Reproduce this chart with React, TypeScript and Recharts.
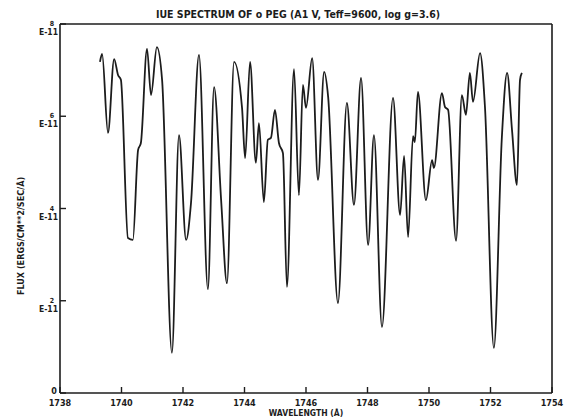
import React from 'react';
import { Label, Line, LineChart, XAxis, YAxis } from 'recharts';

// IUE spectrum of o Peg, flux in units of 1E-11 erg/cm^2/s/Å
const wavelength = [
  1739.3, 1739.37, 1739.56, 1739.76, 1739.89, 1739.98, 1740.21, 1740.37, 1740.54, 1740.63,
  1740.83, 1740.96, 1741.15, 1741.32, 1741.64, 1741.87, 1742.1, 1742.26, 1742.52, 1742.81,
  1743.01, 1743.24, 1743.43, 1743.66, 1743.92, 1744.02, 1744.18, 1744.37, 1744.47, 1744.63,
  1744.76, 1744.86, 1744.99, 1745.12, 1745.25, 1745.38, 1745.61, 1745.77, 1745.9, 1746.0,
  1746.2, 1746.39, 1746.59, 1746.72, 1747.04, 1747.33, 1747.56, 1747.79, 1748.02, 1748.21,
  1748.47, 1748.83, 1749.06, 1749.19, 1749.32, 1749.48, 1749.54, 1749.64, 1749.9, 1750.1,
  1750.16, 1750.42, 1750.52, 1750.62, 1750.88, 1751.07, 1751.2, 1751.33, 1751.43, 1751.66,
  1751.82, 1752.11, 1752.37, 1752.54, 1752.7, 1752.86, 1752.96, 1753.02,
];
const flux = [
  7.18, 7.35, 5.64, 7.24, 6.89, 6.79, 3.36, 3.32, 5.27, 5.42,
  7.46, 6.46, 7.5, 6.79, 0.87, 5.59, 3.32, 4.12, 7.33, 2.25,
  6.63, 4.18, 2.38, 7.18, 6.18, 5.09, 7.18, 4.99, 5.85, 4.14,
  5.49, 5.53, 6.14, 5.42, 5.2, 2.3, 7.02, 4.29, 6.68, 6.18,
  7.26, 4.62, 6.96, 6.42, 1.95, 6.29, 4.08, 6.83, 3.21, 5.59,
  1.43, 6.4, 3.86, 5.14, 3.38, 5.57, 5.44, 6.53, 4.18, 5.05,
  4.88, 6.5, 6.2, 6.14, 3.3, 6.46, 6.03, 6.94, 6.31, 7.37,
  6.2, 0.98, 5.55, 6.94, 5.7, 4.51, 6.79, 6.94,
];
const xTicks = [1738, 1740, 1742, 1744, 1746, 1748, 1750, 1752, 1754];
const yTicks = [0, 2, 4, 6, 8];

const data = wavelength.map((wl, i) => ({ wl, flux: flux[i] }));

const INK = '#1c1c1c';
const FONT = '"DejaVu Sans Condensed", "DejaVu Sans", sans-serif';

const WaveTick = ({ x, y, payload }: any) => (
  <text x={x} y={y + 3} textAnchor="middle" fontSize={9} fontWeight="bold" fontFamily={FONT} fill={INK}>
    {payload.value}
  </text>
);

const FluxTick = ({ x, y, payload }: any) => {
  if (payload.value === 0) {
    return (
      <text x={x - 4} y={y + 1} textAnchor="middle" fontSize={9} fontWeight="bold" fontFamily={FONT} fill={INK}>
        0
      </text>
    );
  }
  return (
    <g fontFamily={FONT} fontWeight="bold" fill={INK}>
      <text x={x - 6} y={y + 2} textAnchor="middle" fontSize={7}>
        {payload.value}
      </text>
      <text x={x} y={y + 11} textAnchor="end" fontSize={8.5}>
        E-11
      </text>
    </g>
  );
};

const TitleLabel = ({ viewBox }: any) => (
  <text
    x={viewBox.x + viewBox.width / 2 - 8}
    y={18}
    textAnchor="middle"
    fontSize={10.5}
    fontWeight="bold"
    fontFamily={FONT}
    fill={INK}
  >
    IUE SPECTRUM OF o PEG (A1 V, Teff=9600, log g=3.6)
  </text>
);

const WaveLabel = ({ viewBox }: any) => (
  <text x={viewBox.x + viewBox.width / 2} y={416} textAnchor="middle" fontSize={8.5} fontWeight="bold" fontFamily={FONT} fill={INK}>
    WAVELENGTH (Å)
  </text>
);

const FluxLabel = () => (
  <text
    x={0}
    y={0}
    transform="translate(24, 236) rotate(-90)"
    textAnchor="middle"
    fontSize={9}
    fontWeight="bold"
    fontFamily={FONT}
    fill={INK}
  >
    FLUX (ERGS/CM**2/SEC/Å)
  </text>
);

const axisLine = { stroke: INK, strokeWidth: 1.6 };
const tickLine = { stroke: INK, strokeWidth: 1.4 };

export default function App() {
  return (
    <div style={{ position: 'absolute', left: 0, top: 0, background: '#fff' }}>
      <LineChart width={570} height={419} data={data} margin={{ top: 23, right: 17, bottom: 0, left: 0 }}>
        <XAxis
          type="number"
          dataKey="wl"
          domain={[1738, 1754]}
          ticks={xTicks}
          height={26}
          tickSize={-6}
          tickMargin={16}
          tick={<WaveTick />}
          axisLine={axisLine}
          tickLine={tickLine}
        >
          <Label content={<WaveLabel />} />
        </XAxis>
        {/* top and right axes close the frame, ticks pointing inward */}
        <XAxis
          xAxisId="top"
          orientation="top"
          type="number"
          dataKey="wl"
          domain={[1738, 1754]}
          ticks={xTicks}
          height={1}
          tickSize={-6}
          tick={false}
          axisLine={axisLine}
          tickLine={tickLine}
        >
          <Label content={<TitleLabel />} />
        </XAxis>
        <YAxis
          type="number"
          domain={[0, 8]}
          ticks={yTicks}
          width={60}
          tickSize={-6}
          tickMargin={8}
          tick={<FluxTick />}
          axisLine={axisLine}
          tickLine={tickLine}
        >
          <Label content={<FluxLabel />} />
        </YAxis>
        <YAxis
          yAxisId="right"
          orientation="right"
          type="number"
          domain={[0, 8]}
          ticks={yTicks}
          width={1}
          tickSize={-6}
          tick={false}
          axisLine={axisLine}
          tickLine={tickLine}
        />
        <Line
          type="monotone"
          dataKey="flux"
          stroke={INK}
          strokeWidth={1.8}
          dot={false}
          isAnimationActive={false}
        />
      </LineChart>
    </div>
  );
}
